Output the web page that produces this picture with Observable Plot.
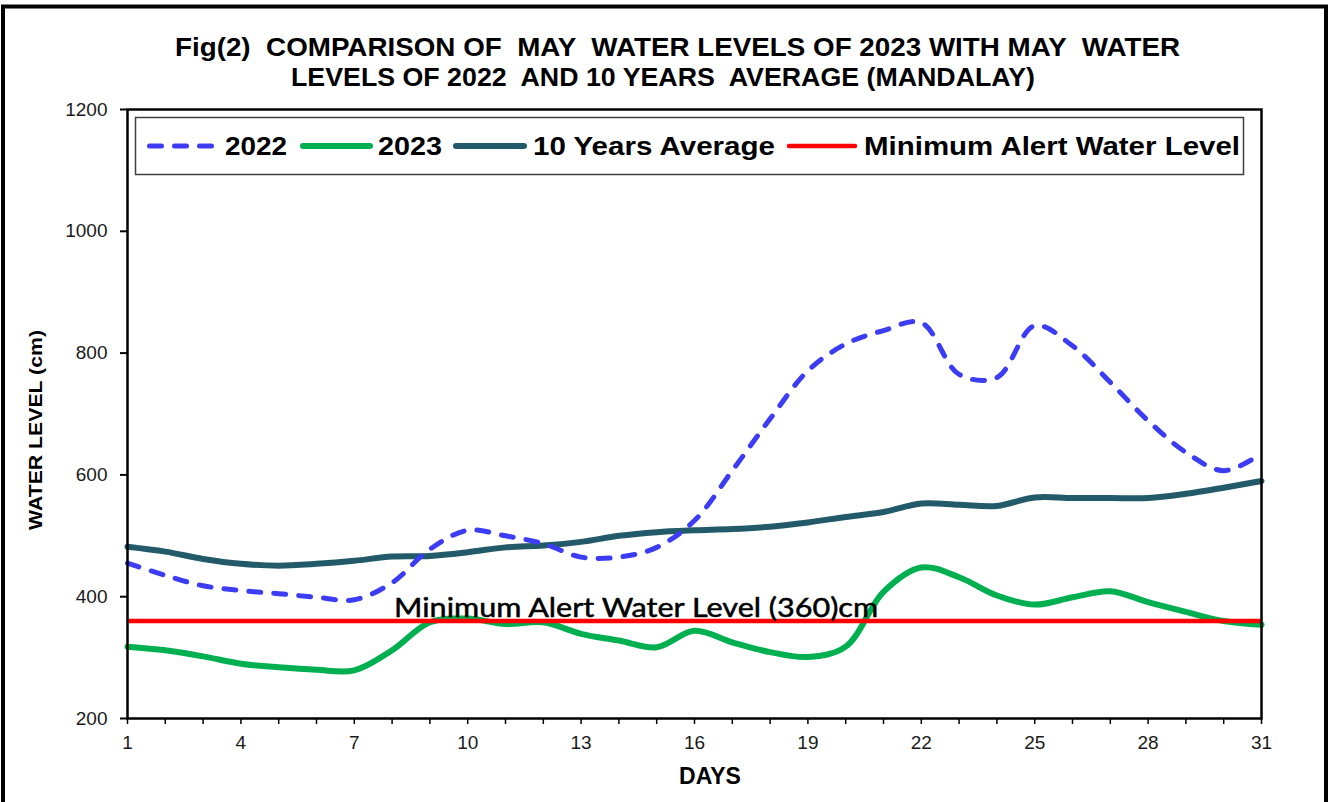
<!DOCTYPE html>
<html><head><meta charset="utf-8">
<script src="https://cdn.jsdelivr.net/npm/d3@7"></script>
<script src="https://cdn.jsdelivr.net/npm/@observablehq/plot@0.6"></script>
<style>
body{margin:0;background:#fff;}
#wrap{position:relative;width:1340px;height:802px;overflow:hidden;background:#fff;}
#wrap svg{position:absolute;left:0;top:0;}
</style></head><body><div id="wrap"></div>
<script>
// ---- data ----
const days = d3.range(1, 32);
const y2022 = [455,435,418,410,405,399,395,423,478,509,500,487,465,465,481,525,607,692,771,815,837,850,765,760,845,812,752,689,637,607,635];
const y2023 = [318,312,302,290,284,280,279,312,358,364,355,358,339,328,317,344,325,309,301,318,408,448,432,402,387,399,409,391,375,360,354];
const yAvg  = [482,474,462,454,451,454,459,466,467,473,481,484,490,500,506,509,511,515,522,531,539,553,551,549,563,562,562,562,569,579,590];
const minAlert = 360;
const yTicks = [200, 400, 600, 800, 1000, 1200];
const xTickLabels = [1, 4, 7, 10, 13, 16, 19, 22, 25, 28, 31];
const seriesNames = ["2022", "2023", "10 Years Average", "Minimum Alert Water Level"];
const seriesColors = ["#3c3cf5", "#00b050", "#235a6a", "#ff0000"];
const titleLines = ["Fig(2)  COMPARISON OF  MAY  WATER LEVELS OF 2023 WITH MAY  WATER",
                    "LEVELS OF 2022  AND 10 YEARS  AVERAGE (MANDALAY)"];
const annotation = [{day: 8, value: minAlert, text: "Minimum Alert Water Level (360)cm"}];

const data = days.map((d, i) => ({day: d, v2022: y2022[i], v2023: y2023[i], avg: yAvg[i]}));

const plot = Plot.plot({
  width: 1340, height: 802,
  marginLeft: 127, marginRight: 79, marginTop: 109, marginBottom: 84,
  style: {fontFamily: "'Liberation Sans', Arial, sans-serif", background: "transparent", color: "#000", overflow: "visible"},
  x: {domain: [1, 31]},
  y: {domain: [200, 1200]},
  marks: [
    Plot.axisY({ticks: yTicks, tickSize: 7, tickPadding: 13, fontSize: 19, label: null, strokeWidth: 2, fill: "#1a1a1a",
      tickFormat: d => String(d)}),
    Plot.axisX({ticks: days, tickSize: 6, tickPadding: 11, fontSize: 19, label: null, strokeWidth: 1.5, fill: "#1a1a1a",
      tickFormat: d => xTickLabels.includes(d) ? String(d) : ""}),
    Plot.line(data, {x: "day", y: "avg", curve: "catmull-rom", stroke: seriesColors[2], strokeWidth: 6}),
    Plot.line(data, {x: "day", y: "v2023", curve: "catmull-rom", stroke: seriesColors[1], strokeWidth: 6}),
    Plot.line(data, {x: "day", y: "v2022", curve: "catmull-rom", stroke: seriesColors[0], strokeWidth: 5,
      strokeDasharray: "12,13", strokeLinecap: "round"}),
    Plot.ruleY([minAlert], {stroke: seriesColors[3], strokeWidth: 4.5}),
    Plot.text(annotation, {x: "day", y: "value", text: "text", textAnchor: "start", lineAnchor: "bottom",
      dx: 2, dy: -4.5, fontSize: 26.5, fontFamily: "Lato, 'Open Sans', sans-serif", fill: "#000",
      stroke: "#000", strokeWidth: 0.5}),
    Plot.frame({stroke: "#000", strokeWidth: 2.5})
  ]
});
document.getElementById("wrap").appendChild(plot);

// fit annotation width
plot.querySelectorAll("text").forEach(t => {
  if (t.textContent === annotation[0].text) {
    t.setAttribute("textLength", 484);
    t.setAttribute("lengthAdjust", "spacingAndGlyphs");
  }
});

// ---- overlay: frame, title, legend, axis labels ----
const ov = d3.select("#wrap").append("svg").attr("width", 1340).attr("height", 802)
  .style("pointer-events", "none").attr("font-family", "'Liberation Sans', Arial, sans-serif");

ov.append("path").attr("d", "M3,802 V6.5 H1326 V802").attr("fill", "none").attr("stroke", "#000").attr("stroke-width", 4);

const titlePos = [{x: 175, y: 56, len: 1005}, {x: 291, y: 86, len: 744}];
titleLines.forEach((s, i) => {
  ov.append("text").attr("x", titlePos[i].x).attr("y", titlePos[i].y)
    .attr("font-size", 26).attr("font-weight", "bold").attr("fill", "#000")
    .attr("xml:space", "preserve").style("white-space", "pre")
    .attr("textLength", titlePos[i].len).attr("lengthAdjust", "spacingAndGlyphs").text(s);
});

// legend
ov.append("rect").attr("x", 135.5).attr("y", 117.5).attr("width", 1108).attr("height", 57)
  .attr("fill", "#fff").attr("stroke", "#404040").attr("stroke-width", 1.5);
const leg = [
  {x1: 149.5, x2: 213.5, w: 5, dash: "12,13", tx: 225, tl: 62},
  {x1: 303, x2: 370, w: 6, dash: null, tx: 378, tl: 64},
  {x1: 456, x2: 524, w: 6, dash: null, tx: 533, tl: 242},
  {x1: 789, x2: 855, w: 4.5, dash: null, tx: 864, tl: 376}
];
leg.forEach((l, i) => {
  const ln = ov.append("line").attr("x1", l.x1).attr("x2", l.x2).attr("y1", 146).attr("y2", 146)
    .attr("stroke", seriesColors[i]).attr("stroke-width", l.w).attr("stroke-linecap", "round");
  if (l.dash) ln.attr("stroke-dasharray", l.dash);
  ov.append("text").attr("x", l.tx).attr("y", 155).attr("font-size", 26).attr("font-weight", "bold")
    .attr("textLength", l.tl).attr("lengthAdjust", "spacingAndGlyphs").text(seriesNames[i]);
});

// axis labels
ov.append("text").attr("transform", "translate(42,430) rotate(-90)").attr("text-anchor", "middle")
  .attr("font-size", 18).attr("font-weight", "bold").attr("textLength", 200).attr("lengthAdjust", "spacingAndGlyphs")
  .text("WATER LEVEL (cm)");
ov.append("text").attr("x", 710).attr("y", 784).attr("text-anchor", "middle")
  .attr("font-size", 23).attr("font-weight", "bold").text("DAYS");
</script>
</body></html>
